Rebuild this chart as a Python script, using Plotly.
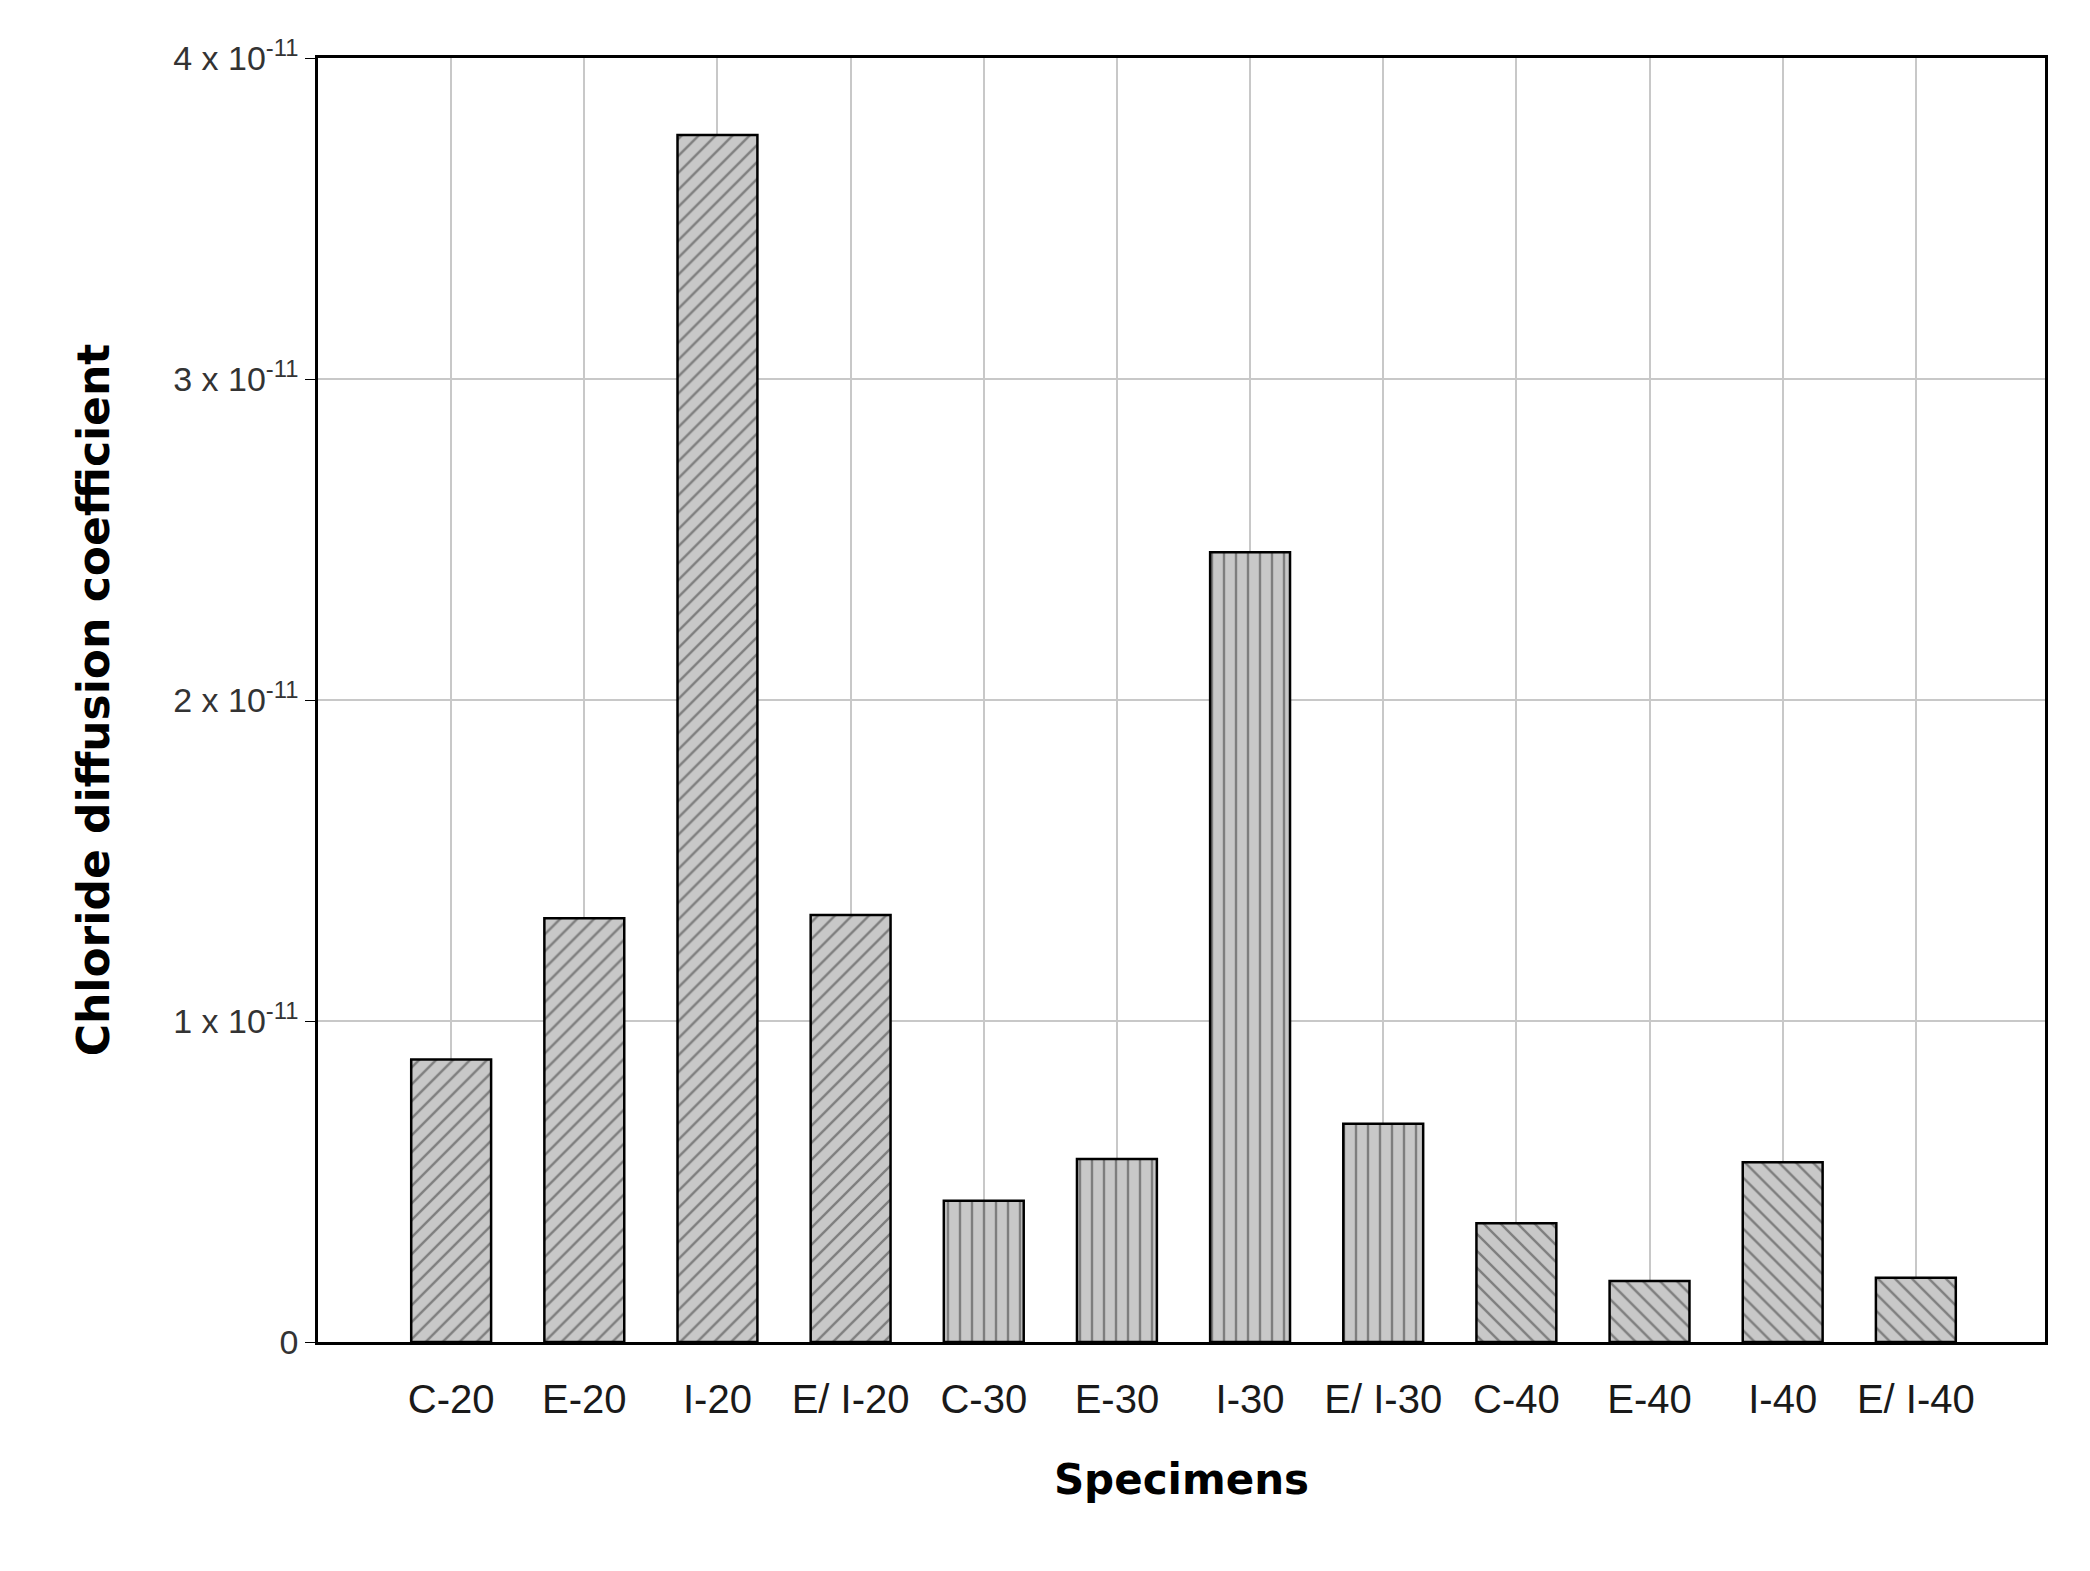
import plotly.graph_objects as go

categories = ["C-20", "E-20", "I-20", "E/ I-20", "C-30", "E-30", "I-30", "E/ I-30", "C-40", "E-40", "I-40", "E/ I-40"]
values = [0.88e-11, 1.32e-11, 3.76e-11, 1.33e-11, 0.44e-11, 0.57e-11, 2.46e-11, 0.68e-11, 0.37e-11, 0.19e-11, 0.56e-11, 0.20e-11]
patterns = ["/"] * 4 + ["|"] * 4 + ["\\"] * 4
ytick_vals = [0, 1e-11, 2e-11, 3e-11, 4e-11]
ytick_text = ["0", "1 x 10<sup>-11</sup>", "2 x 10<sup>-11</sup>", "3 x 10<sup>-11</sup>", "4 x 10<sup>-11</sup>"]

fig = go.Figure(go.Bar(
    x=list(range(len(categories))), y=values, width=0.6,
    marker=dict(color="#c8c8c8", line=dict(color="black", width=2.5),
                pattern=dict(shape=patterns, fgcolor="#333333", bgcolor="#c8c8c8", size=12, solidity=0.2)),
))
fig.update_layout(
    width=2090, height=1571, plot_bgcolor="white", paper_bgcolor="white",
    margin=dict(l=310, r=53, t=50, b=237), showlegend=False,
    font=dict(family="Liberation Sans", color="#222"),
)
fig.update_xaxes(
    range=[-1, 11.97], tickvals=list(range(len(categories))), ticktext=categories,
    tickfont=dict(size=40, color="#1a1a1a"), showgrid=True, gridcolor="#c8c8c8", gridwidth=2,
    showline=True, linecolor="black", linewidth=2.5, mirror=True, ticks="outside", ticklen=20, tickcolor="white",
    title=dict(text="<b>Specimens</b>", font=dict(family="DejaVu Sans", size=42, color="black"), standoff=45),
)
fig.update_yaxes(
    range=[0, 4e-11], tickvals=ytick_vals, ticktext=ytick_text,
    tickfont=dict(size=34, color="#333"), showgrid=True, gridcolor="#c8c8c8", gridwidth=2,
    showline=True, linecolor="black", linewidth=2.5, mirror=True, zeroline=False,
    ticks="outside", ticklen=10, tickcolor="black",
    title=dict(text="<b>Chloride diffusion coefficient</b>", font=dict(family="DejaVu Sans", size=44, color="black"), standoff=50),
)
fig.write_html("out.html")
